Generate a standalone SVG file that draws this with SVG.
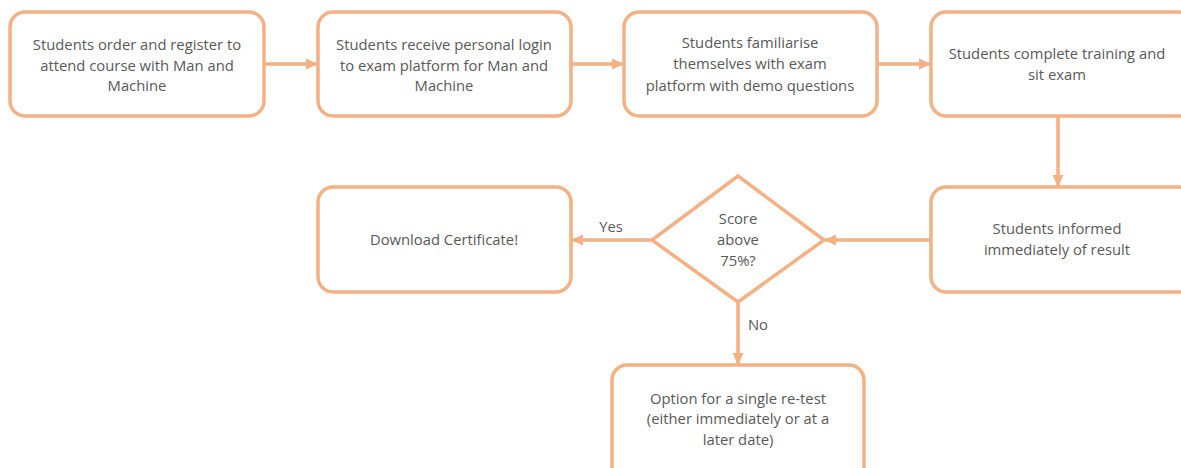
<svg xmlns="http://www.w3.org/2000/svg" width="1181" height="468" viewBox="0 0 1181 468">
<style>
.box{fill:#fff;stroke:#F4B183;stroke-width:3.5}
.con{fill:none;stroke:#F4B183;stroke-width:3.5}
text{font-family:"Open Sans","Liberation Sans",sans-serif;font-size:14.8px;fill:#595959;text-anchor:middle}
</style>
<defs>
<marker id="ah" markerUnits="userSpaceOnUse" markerWidth="12" markerHeight="12" viewBox="0 0 12 12" refX="11" refY="6" orient="auto">
<path d="M0,0.5 L12,6 L0,11.5 Z" fill="#F4B183"/>
</marker>
</defs>
<rect width="1181" height="468" fill="#fff"/>
<g id="connectors">
<line class="con" x1="264" y1="64" x2="317" y2="64" marker-end="url(#ah)"/>
<line class="con" x1="571" y1="64" x2="623" y2="64" marker-end="url(#ah)"/>
<line class="con" x1="877" y1="64" x2="930" y2="64" marker-end="url(#ah)"/>
<line class="con" x1="1058" y1="116" x2="1058" y2="186" marker-end="url(#ah)"/>
<line class="con" x1="931" y1="240" x2="825" y2="240" marker-end="url(#ah)"/>
<line class="con" x1="652" y1="240" x2="572" y2="240" marker-end="url(#ah)"/>
<line class="con" x1="738" y1="302" x2="738" y2="364" marker-end="url(#ah)"/>
<text x="611" y="232">Yes</text>
<text x="758" y="330">No</text>
</g>
<g id="n1">
<rect class="box" x="10" y="12" width="254" height="104" rx="15"/>
<text x="137" y="50">Students order and register to</text>
<text x="137" y="70.5">attend course with Man and</text>
<text x="137" y="91">Machine</text>
</g>
<g id="n2">
<rect class="box" x="318" y="12" width="253" height="104" rx="15"/>
<text x="444" y="50">Students receive personal login</text>
<text x="444" y="70.5">to exam platform for Man and</text>
<text x="444" y="91">Machine</text>
</g>
<g id="n3">
<rect class="box" x="624" y="12" width="253" height="104" rx="15"/>
<text x="750" y="48">Students familiarise</text>
<text x="750" y="69">themselves with exam</text>
<text x="750" y="90.5">platform with demo questions</text>
</g>
<g id="n4">
<rect class="box" x="931" y="12" width="262" height="104" rx="15"/>
<text x="1057" y="59">Students complete training and</text>
<text x="1057" y="80">sit exam</text>
</g>
<g id="n5">
<rect class="box" x="931" y="187" width="262" height="105" rx="15"/>
<text x="1057" y="234">Students informed</text>
<text x="1057" y="255">immediately of result</text>
</g>
<g id="n6">
<polygon class="box" points="738,176 824,240 738,302 652,240"/>
<text x="738" y="224">Score</text>
<text x="738" y="245">above</text>
<text x="738" y="266">75%?</text>
</g>
<g id="n7">
<rect class="box" x="318" y="187" width="253" height="105" rx="15"/>
<text x="444" y="245">Download Certificate!</text>
</g>
<g id="n8">
<rect class="box" x="612" y="365" width="252" height="120" rx="15"/>
<text x="738" y="404">Option for a single re-test</text>
<text x="738" y="424">(either immediately or at a</text>
<text x="738" y="445">later date)</text>
</g>
</svg>
